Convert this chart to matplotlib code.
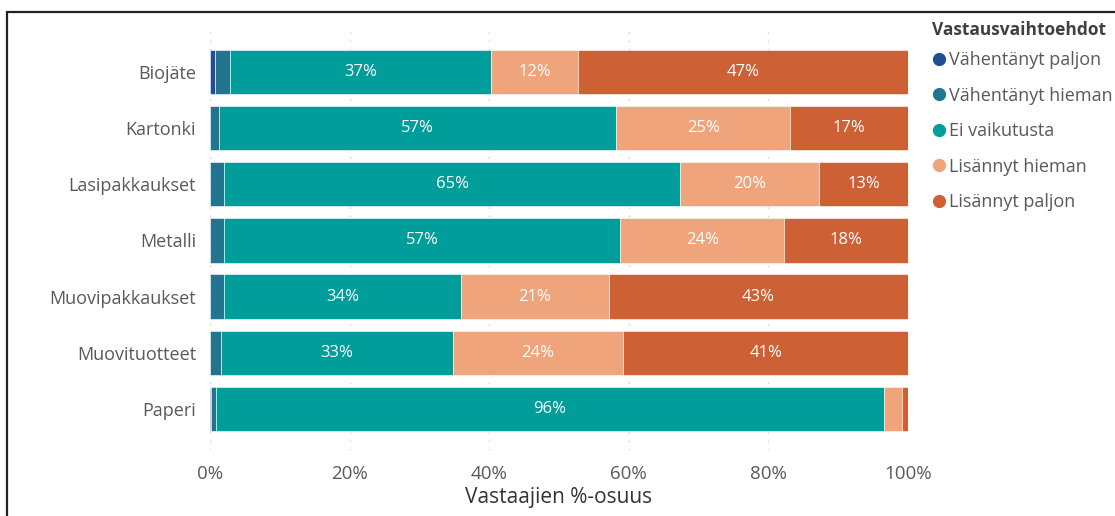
import matplotlib.pyplot as plt
from matplotlib.lines import Line2D
from matplotlib.patches import Rectangle
import numpy as np

plt.rcParams['font.family'] = ['Open Sans', 'DejaVu Sans']

categories = ['Biojäte', 'Kartonki', 'Lasipakkaukset', 'Metalli',
              'Muovipakkaukset', 'Muovituotteet', 'Paperi']
series = ['Vähentänyt paljon', 'Vähentänyt hieman', 'Ei vaikutusta',
          'Lisännyt hieman', 'Lisännyt paljon']
vahentanyt_paljon = [0.7, 0.0, 0.0, 0.0, 0.0, 0.0, 0.1]
vahentanyt_hieman = [2.2, 1.3, 2.0, 2.0, 2.0, 1.6, 0.7]
ei_vaikutusta = [37.4, 56.9, 65.4, 56.8, 34.0, 33.2, 95.8]
lisannyt_hieman = [12.4, 24.9, 19.9, 23.5, 21.1, 24.4, 2.6]
lisannyt_paljon = [47.3, 16.9, 12.7, 17.7, 42.9, 40.8, 0.8]
xticks = [0, 20, 40, 60, 80, 100]

colors = ['#1f4e96', '#21758f', '#009d9a', '#f0a47c', '#cd6034']
text_gray = '#595959'

values = [vahentanyt_paljon, vahentanyt_hieman, ei_vaikutusta,
          lisannyt_hieman, lisannyt_paljon]

fig = plt.figure(figsize=(11.15, 5.16), dpi=100)
ax = fig.add_axes([210 / 1115, 1 - 450 / 516, 698 / 1115, 425 / 516])

y = np.arange(len(categories))
left = np.zeros(len(categories))
for vals, color in zip(values, colors):
    vals = np.array(vals)
    ax.barh(y, vals, left=left, height=0.79, color=color,
            edgecolor='white', linewidth=0.4)
    for yi, (l, v) in enumerate(zip(left, vals)):
        if v >= 10:
            ax.text(l + v / 2, yi, f'{v:.0f}%', ha='center', va='center',
                    color='white', fontsize=12)
    left += vals

ax.set_xlim(0, 100)
ax.set_ylim(6.73, -0.835)
ax.set_yticks(y)
ax.set_yticklabels(categories, fontsize=13, color=text_gray)
ax.set_xticks(xticks)
ax.set_xticklabels([f'{t}%' for t in xticks], fontsize=13.5, color=text_gray)
ax.tick_params(length=0, pad=10)
ax.tick_params(axis='x', pad=11)
ax.set_xlabel('Vastaajien %-osuus', fontsize=15, color='#333333', labelpad=3)
ax.xaxis.grid(True, linestyle=(0, (1, 5)), color='#d0d0d0', linewidth=1)
ax.set_axisbelow(True)
for s in ax.spines.values():
    s.set_visible(False)

# legend title as separate text, entries below
fig.text(932 / 1115, 1 - 30 / 516, 'Vastausvaihtoehdot', fontsize=12.5,
         fontweight='bold', color='#404040', ha='left', va='center')
handles = [Line2D([], [], marker='o', linestyle='', color=c, markersize=8.5)
           for c in colors]
leg = fig.legend(handles, series, loc='upper left',
                 bbox_to_anchor=(929 / 1115, 1 - 51 / 516),
                 frameon=False, fontsize=13, handletextpad=0.0,
                 labelspacing=0.97, handlelength=1.1, borderaxespad=0,
                 borderpad=0)
for t in leg.get_texts():
    t.set_color(text_gray)

fig.patches.append(Rectangle((7 / 1115, -0.2), 1.2, 1.2 - 12 / 516,
                             transform=fig.transFigure, fill=False,
                             edgecolor='#222222', linewidth=1.6))

fig.savefig('out.png', dpi=100)
